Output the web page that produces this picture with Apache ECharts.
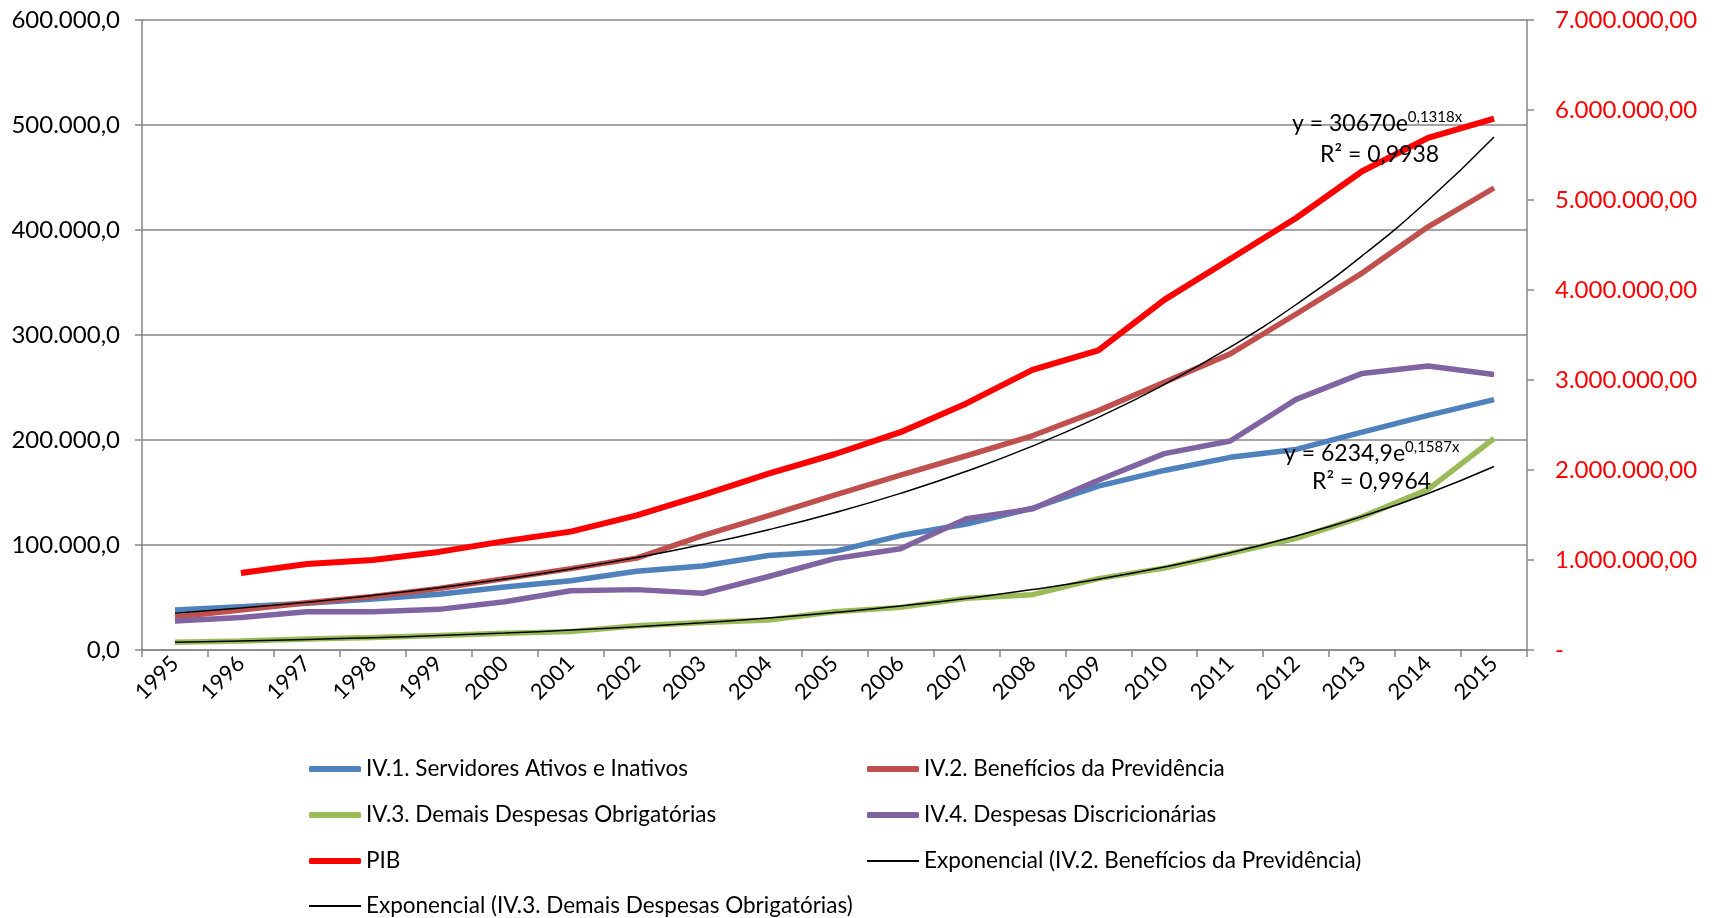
<!DOCTYPE html>
<html>
<head>
<meta charset="utf-8">
<script src="https://cdn.jsdelivr.net/npm/echarts@6/dist/echarts.min.js"></script>
<style>html,body{margin:0;padding:0;background:#fff;}#c{width:1715px;height:918px;}</style>
</head>
<body>
<div id="c"></div>
<script>
const years = ['1995','1996','1997','1998','1999','2000','2001','2002','2003','2004','2005','2006','2007','2008','2009','2010','2011','2012','2013','2014','2015'];
const servidores = [38000,41300,44500,48600,53000,60000,66000,75000,80000,90000,94000,109000,120000,135000,156000,171000,183500,191000,207500,223500,238500];
const beneficios = [31500,38000,45000,51000,58500,68000,77500,87500,109000,128000,147500,166500,185000,204000,228000,255000,282000,320000,359000,403000,440000];
const demais = [7300,8600,10500,12000,13700,15900,17500,23000,26300,28600,36500,40600,49300,52700,68000,78000,92000,106300,126800,153000,201400];
const discricionarias = [27600,31000,36500,36500,38700,46000,56500,57500,54000,70000,87000,96500,125000,134400,161600,187000,199000,238700,263400,270400,262300];
const pib = [null,855000,955000,1000000,1090000,1210000,1315000,1495000,1720000,1960000,2175000,2420000,2740000,3113000,3330000,3890000,4345000,4800000,5320000,5690000,5905000];
const trendBeneficios = [34991,39923,45548,51967,59289,67643,77175,88050,100457,114613,130764,149188,170212,194196,221560,252782,288402,329040,375407,428307,488662];
const trendDemais = [7307,8564,10037,11763,13787,16158,18938,22195,26013,30487,35731,41877,49080,57522,67416,79013,92603,108531,127199,149079,174721];
const leftTicks = [0,100000,200000,300000,400000,500000,600000];
const rightTicks = [0,1000000,2000000,3000000,4000000,5000000,6000000,7000000];

const names = {
  s:'IV.1. Servidores Ativos e Inativos',
  b:'IV.2. Benefícios da Previdência',
  d:'IV.3. Demais Despesas Obrigatórias',
  r:'IV.4. Despesas Discricionárias',
  p:'PIB',
  tb:'Exponencial (IV.2. Benefícios da Previdência)',
  td:'Exponencial (IV.3. Demais Despesas Obrigatórias)'
};

function fmt(v, dec){
  const parts = Number(v).toFixed(dec).split('.');
  const i = parts[0].replace(/\B(?=(\d{3})+(?!\d))/g, '.');
  return dec > 0 ? i + ',' + parts[1] : i;
}
const FONT = 'Lato';
const gridColor = '#868686';

const legendText = {fontFamily: FONT, fontSize: 22.5, color:'#000', lineHeight: 24};
// legend layout: [name, column, row, thick]
const legendLayout = [
  [names.s, 0, 0, true], [names.b, 1, 0, true],
  [names.d, 0, 1, true], [names.r, 1, 1, true],
  [names.p, 0, 2, true], [names.tb, 1, 2, false],
  [names.td, 0, 3, false]
];
const colLeft = [309, 867];
const rowCenter = [769, 815, 861, 906];
const legends = legendLayout.map(([n, c, r, thick]) => ({
  orient:'horizontal', left: colLeft[c], top: rowCenter[r] - 12,
  itemWidth: 52, itemHeight: thick ? 6 : 2, icon: thick ? 'roundRect' : 'rect',
  textStyle: legendText, selectedMode:false, padding:0, data:[n]
}));

const chart = echarts.init(document.getElementById('c'), null, {renderer:'canvas'});
const option = {
  backgroundColor:'#fff',
  animation:false,
  grid:{left:142, right:188, top:20, bottom:268, containLabel:false},
  legend: legends,
  xAxis:{
    type:'category', data: years, boundaryGap:true,
    axisLine:{lineStyle:{color:gridColor, width:1.5}},
    axisTick:{show:true, alignWithLabel:false, length:7, lineStyle:{color:gridColor, width:1.5}},
    axisLabel:{rotate:45, color:'#000', fontFamily:FONT, fontSize:22, margin:10, interval:0}
  },
  yAxis:[
    {type:'value', min:leftTicks[0], max:leftTicks[leftTicks.length-1], interval:100000, position:'left',
     axisLine:{show:true, lineStyle:{color:gridColor, width:1.5}},
     axisTick:{show:true, length:7, lineStyle:{color:gridColor, width:1.5}},
     splitLine:{show:true, lineStyle:{color:gridColor, width:1.5}},
     axisLabel:{color:'#000', fontFamily:FONT, fontSize:24, margin:22, formatter:(v)=>fmt(v,1)}},
    {type:'value', min:rightTicks[0], max:rightTicks[rightTicks.length-1], interval:1000000, position:'right',
     axisLine:{show:true, lineStyle:{color:gridColor, width:1.5}},
     axisTick:{show:true, length:7, lineStyle:{color:gridColor, width:1.5}},
     splitLine:{show:false},
     axisLabel:{color:'#FF0000', fontFamily:FONT, fontSize:24, margin:28, align:'left',
       formatter:(v)=> v===0 ? '-' : fmt(v,2)}}
  ],
  series:[
    {name:names.s, type:'line', data:servidores, yAxisIndex:0, symbol:'none', lineStyle:{color:'#4F81BD', width:5.5}, itemStyle:{color:'#4F81BD'}},
    {name:names.b, type:'line', data:beneficios, yAxisIndex:0, symbol:'none', lineStyle:{color:'#C0504D', width:5.5}, itemStyle:{color:'#C0504D'}},
    {name:names.d, type:'line', data:demais, yAxisIndex:0, symbol:'none', lineStyle:{color:'#9BBB59', width:5.5}, itemStyle:{color:'#9BBB59'}},
    {name:names.r, type:'line', data:discricionarias, yAxisIndex:0, symbol:'none', lineStyle:{color:'#8064A2', width:5.5}, itemStyle:{color:'#8064A2'}},
    {name:names.p, type:'line', data:pib, yAxisIndex:1, symbol:'none', connectNulls:false, lineStyle:{color:'#FF0000', width:6}, itemStyle:{color:'#FF0000'}},
    {name:names.tb, type:'line', data:trendBeneficios, yAxisIndex:0, symbol:'none', smooth:true, lineStyle:{color:'#000', width:1.5}, itemStyle:{color:'#000'}},
    {name:names.td, type:'line', data:trendDemais, yAxisIndex:0, symbol:'none', smooth:true, lineStyle:{color:'#000', width:1.5}, itemStyle:{color:'#000'}}
  ],
  graphic:[
    {type:'text', left:1292, top:110, z:100, style:{text:'{a|y = 30670e}{b|0,1318x}', rich:{a:{fontFamily:FONT,fontSize:23,fill:'#000'}, b:{fontFamily:FONT,fontSize:15,fill:'#000',padding:[0,0,12,0]}}}},
    {type:'text', left:1320, top:143, z:100, style:{text:'R² = 0,9938', fontFamily:FONT, fontSize:23, fill:'#000'}},
    {type:'text', left:1284, top:440, z:100, style:{text:'{a|y = 6234,9e}{b|0,1587x}', rich:{a:{fontFamily:FONT,fontSize:23,fill:'#000'}, b:{fontFamily:FONT,fontSize:15,fill:'#000',padding:[0,0,12,0]}}}},
    {type:'text', left:1312, top:470, z:100, style:{text:'R² = 0,9964', fontFamily:FONT, fontSize:23, fill:'#000'}}
  ]
};
chart.setOption(option);
</script>
</body>
</html>
